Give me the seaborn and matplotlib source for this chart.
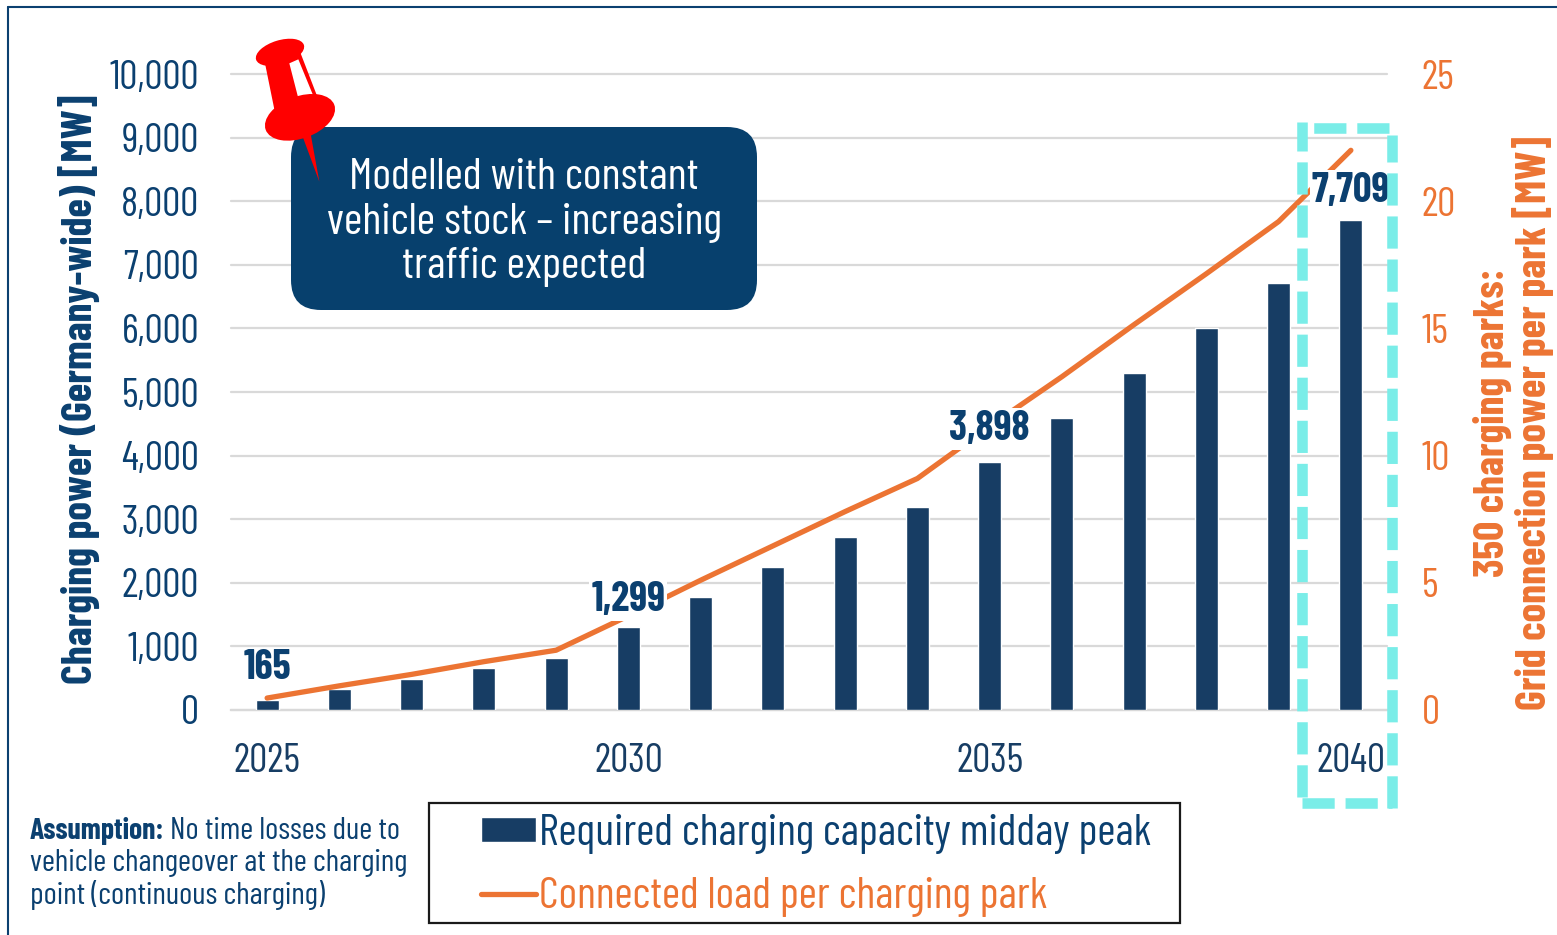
import numpy as np
import pandas as pd
import matplotlib.pyplot as plt
from matplotlib.patches import Ellipse, FancyBboxPatch, Polygon, Rectangle
import seaborn as sns

# values
years = [str(y) for y in range(2025, 2041)]
charging_power = [165, 330, 490, 660, 820, 1299, 1780, 2250, 2720, 3190, 3898, 4590, 5300, 6000, 6720, 7709]
connected_load = [0.47, 0.95, 1.4, 1.9, 2.35, 3.7, 5.1, 6.45, 7.8, 9.1, 11.15, 13.1, 15.15, 17.15, 19.2, 22.0]
left_ticks = [0, 1000, 2000, 3000, 4000, 5000, 6000, 7000, 8000, 9000, 10000]
right_ticks = [0, 5, 10, 15, 20, 25]
year_ticks = ['2025', '2030', '2035', '2040']
labelled_years = ['2025', '2030', '2035', '2040']

navy = '#173D64'
text_navy = '#0B4070'
orange = '#EC7433'
cyan = '#7AEDE8'
W, H = 1557, 935

sns.set_theme(style='white')
plt.rcParams['font.family'] = ['Barlow Condensed', 'Roboto Condensed', 'Liberation Sans', 'DejaVu Sans']

df = pd.DataFrame({'year': years, 'power': charging_power, 'load': connected_load})
df['pos'] = np.arange(len(df))

fig = plt.figure(figsize=(W / 100, H / 100), dpi=100, facecolor='white')
ax = fig.add_axes([231 / W, (H - 710) / H, 1156 / W, 636 / H])

# bars + left axis
sns.barplot(data=df, x='year', y='power', color=navy, width=0.32, saturation=1, ax=ax, zorder=3)
ax.set_xlim(-0.5, 15.5)
ax.set_ylim(0, 10000)
ax.set_yticks(left_ticks, [f'{v:,}' for v in left_ticks])
ax.set_xticks([years.index(y) for y in year_ticks], year_ticks)
ax.grid(axis='y', color='#D9D9D9', lw=1.6, zorder=0)
ax.grid(axis='x', visible=False)
ax.set_axisbelow(True)
for gl in ax.get_ygridlines():
    gl.set_clip_on(False)
sns.despine(ax=ax, left=True, right=True, top=True)
ax.spines['bottom'].set_color('#D9D9D9')
ax.spines['bottom'].set_linewidth(1.6)
ax.tick_params(axis='y', length=0, pad=23, labelsize=29, labelcolor=text_navy)
ax.tick_params(axis='x', length=0, pad=24, labelsize=29, labelcolor=navy)
ax.set_xlabel('')
ax.set_ylabel('Charging power (Germany-wide) [MW]', fontsize=30.5, fontweight='bold', color=text_navy, va='center')
ax.yaxis.set_label_coords(-0.1315, 0.505)

# line + right axis
ax2 = ax.twinx()
sns.lineplot(data=df, x='pos', y='load', color=orange, linewidth=3.8, solid_capstyle='round',
             ax=ax2, legend=False)
ax2.set_ylim(0, 25)
ax2.set_yticks(right_ticks, [str(v) for v in right_ticks])
ax2.grid(False)
sns.despine(ax=ax2, left=True, right=True, top=True, bottom=True)
ax2.tick_params(axis='y', length=0, pad=25, labelsize=29, labelcolor=orange)
ax2.set_ylabel('350 charging parks:\nGrid connection power per park [MW]', fontsize=30.5,
               fontweight='bold', color=orange, linespacing=0.98, ha='center', va='center')
ax2.yaxis.set_label_coords(1.1095, 0.452)

# value labels sit over the line, white background hides it
label_pad = {'2025': 9, '2030': 6, '2035': 10, '2040': 7}
for y in labelled_years:
    i = years.index(y)
    ax2.annotate(f'{charging_power[i]:,}', xy=(i, charging_power[i]), xycoords=ax.transData,
                 xytext=(0, label_pad[y]), textcoords='offset points', ha='center', va='bottom',
                 fontsize=29.5, fontweight='bold', color=text_navy, zorder=5,
                 bbox=dict(facecolor='white', edgecolor='none', pad=1.5) if y != '2025' else None)

# overlay in pixel coordinates for the callouts
ov = fig.add_axes([0, 0, 1, 1], zorder=10)
ov.set_xlim(0, W)
ov.set_ylim(H, 0)
ov.axis('off')
ov.patch.set_alpha(0)

ov.plot([8, 8], [7, H], color=text_navy, lw=1.5)
ov.plot([8, W], [7, 7], color=text_navy, lw=1.5)

# dashed highlight round 2040, each side starts at its own corner
for xs, ys in [([1302, 1302], [797, 122]), ([1302, 1392], [802.5, 802.5]),
               ([1392, 1392], [808, 135]), ([1389, 1302], [127.5, 127.5])]:
    ov.plot(xs, ys, color=cyan, lw=7.6, linestyle=(0, (3.05, 1.03)), dash_capstyle='butt')

# text box
ov.add_patch(FancyBboxPatch((291 + 30, 127 + 30), 466 - 60, 183 - 60, boxstyle='round,pad=30,rounding_size=30',
                            facecolor='#07406D', edgecolor='none'))
for txt, yy in [('Modelled with constant', 178), ('vehicle stock – increasing', 223), ('traffic expected', 267)]:
    ov.text(524, yy, txt, color='white', fontsize=32.3, ha='center', va='center')


# pin, points taken from the zoomed crop
def pz(x, y):
    return (230 + x / 3, 20 + y / 3)


ov.add_patch(Polygon([pz(218, 350), pz(242, 342), pz(268, 485)], facecolor='red', edgecolor='none'))
ov.add_patch(Polygon([pz(105, 130), pz(210, 95), pz(262, 230), pz(133, 268)], facecolor='red', edgecolor='none'))
ov.add_patch(Polygon([pz(178, 130), pz(205, 118), pz(253, 235), pz(214, 270)], facecolor='white', edgecolor='none'))
ov.add_patch(Ellipse(pz(150, 97), 50, 24, angle=-17, facecolor='red', edgecolor='none'))
ov.add_patch(Ellipse(pz(210, 292), 73, 42, angle=-20, facecolor='red', edgecolor='none'))

# assumption note
ov.text(30, 831, 'Assumption:', fontsize=21.3, fontweight='bold', color=text_navy, va='center')
ov.text(170, 831, 'No time losses due to', fontsize=22.7, color=text_navy, va='center')
ov.text(30, 863, 'vehicle changeover at the charging', fontsize=22.7, color=text_navy, va='center')
ov.text(30, 895, 'point (continuous charging)', fontsize=22.7, color=text_navy, va='center')

# legend
ov.add_patch(Rectangle((429, 803), 751, 120, facecolor='none', edgecolor='#1A1A1A', lw=1.6))
bar_handle = Rectangle((0, 0), 1, 1, facecolor=navy)
fig.legend(handles=[bar_handle, ax2.get_lines()[0]],
           labels=['Required charging capacity midday peak', 'Connected load per charging park'],
           labelcolor=[text_navy, orange], loc='center left', bbox_to_anchor=(481 / W, (H - 865.5) / H),
           frameon=False, fontsize=31.8, handlelength=1.24, handleheight=0.5, handletextpad=0.08,
           labelspacing=0.51, borderpad=0, borderaxespad=0)

fig.savefig('out.png', dpi=100)
